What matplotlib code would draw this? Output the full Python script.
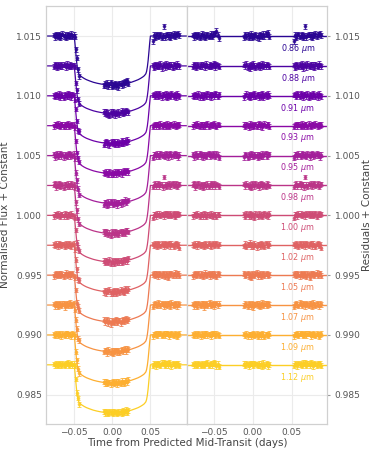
import numpy as np
import matplotlib.pyplot as plt

# wavelength bins and fitted transit depths
wavelengths = ["0.86", "0.88", "0.91", "0.93", "0.95", "0.98",
               "1.00", "1.02", "1.05", "1.07", "1.09", "1.12"]
depths = [0.00410, 0.00398, 0.00399, 0.00400, 0.00401, 0.00402,
          0.00390, 0.00391, 0.00391, 0.00391, 0.00402, 0.00402]
offsets = [1.015, 1.0125, 1.010, 1.0075, 1.005, 1.0025,
           1.000, 0.9975, 0.995, 0.9925, 0.990, 0.9875]

# exposure mid-times (1e-3 days) for the three visits
t_pre = [-77.0, -75.6, -74.1, -72.7, -71.2, -69.8, -68.3, -66.9, -65.4, -64.0,
         -62.5, -61.1, -59.6, -58.2, -56.7, -55.3, -53.8, -52.4, -50.9, -49.5,
         -48.0, -46.6, -45.1, -43.7]
t_mid = [-11.0, -9.5, -8.1, -6.6, -5.2, -3.7, -2.3, -0.8, 0.6, 2.1,
         3.5, 5.0, 6.4, 7.9, 9.3, 10.8, 12.2, 13.7, 15.1, 16.6,
         18.0, 19.5, 20.9]
t_post = [53.0, 54.4, 55.9, 57.3, 58.8, 60.2, 61.7, 63.1, 64.6, 66.0,
          67.5, 68.9, 70.4, 71.8, 73.3, 74.7, 76.2, 77.6, 79.1, 80.5,
          82.0, 83.4, 84.9, 86.3, 87.8]

# normalised transit profile (0 = out of transit, 1 = centre), 1e-3 days
profile_t = [-100.0, -50.0, -49.0, -48.0, -47.0, -46.0, -45.0, -44.0, -42.0, -40.0,
             -37.0, -34.0, -30.0, -25.0, -20.0, -15.0, -10.0, -5.0, 0.0,
             5.0, 10.0, 15.0, 20.0, 25.0, 30.0, 34.0, 37.0, 40.0, 42.0,
             44.0, 45.0, 46.0, 47.0, 48.0, 49.0, 50.0, 100.0]
profile_f = [0.0, 0.0, 0.15, 0.33, 0.50, 0.63, 0.72, 0.77, 0.81, 0.835,
             0.865, 0.89, 0.915, 0.943, 0.963, 0.979, 0.991, 0.998, 1.0,
             0.998, 0.991, 0.979, 0.963, 0.943, 0.915, 0.89, 0.865, 0.835, 0.81,
             0.77, 0.72, 0.63, 0.50, 0.33, 0.15, 0.0, 0.0]

# residuals per bin (1e-5), pre | in-transit | post
res_086 = [9, -12, 17, 4, -7, 13, -15, 6, 20, -4, 10, -13, 3, 14, -8, 7, 18, -6, 11, 25, 25, 45, 12, -20,
           -10, 14, -6, 17, -13, 4, 21, -17, 8, -7, 15, -11, 3, -20, 13, 6, -8, 18, -4, 22, 10, 28, -7,
           -45, 11, -14, 7, 17, -8, 4, 13, -17, 6, 80, -11, 8, 15, -4, 10, -13, 14, 3, 20, -7, 17, 11, 21, 6]
res_088 = [-7, 13, 6, -14, 10, 3, -8, 15, -4, 11, 7, -13, 18, 0, -6, 14, -10, 8, 4, 21, -11, 14, 6, -8,
           11, -4, 17, -14, 7, -21, 13, -10, 20, 3, -15, 8, -6, 14, -11, 4, 17, -8, 10, -3, 13, 7, -6,
           8, -14, 15, 4, -10, 13, -6, 17, -21, 7, 11, -13, 20, 3, -8, 14, -4, 10, -17, 15, 6, -7, 18, 8, -3]
res_091 = [4, -10, 14, 7, -6, 17, -13, 8, 1, -15, 11, 6, -8, 20, -3, 13, -11, 15, 7, -4, 22, 10, -7, 14,
           -13, 6, 18, -8, 11, -17, 7, 14, -4, 21, -10, 3, 15, -14, 8, -6, 20, -11, 4, 13, -7, 17, 1,
           7, 14, -6, 17, 10, -8, 21, 4, -13, 15, 8, -4, 18, -15, 11, 3, -10, 20, 6, -7, 14, -11, 17, 4, -3]
res_093 = [-6, 8, 13, -3, 15, 4, -10, 11, 7, -7, 14, -4, 10, 17, -8, 6, 13, -1, 8, 18, 3, -11, 10, 6,
           7, -8, 13, 3, -14, 17, -6, 10, -11, 4, 14, -7, 8, 15, -4, 11, -13, 6, 18, -3, 8, 13, -7,
           -8, 6, 14, -4, 11, 7, -10, 15, 3, -6, 13, 8, -11, 17, 4, -7, 14, 10, -3, 18, 6, -8, 13, 1, 7]
res_095 = [10, -13, 7, 17, -8, 4, 20, -6, 13, -15, 8, 3, -10, 14, 21, -7, 11, -4, 17, 6, -11, 15, 8, -18,
           -14, 10, 4, -20, 13, -7, 17, 6, -11, 14, -4, 8, -17, 11, 3, -10, 15, -6, 13, 20, -8, 7, 14,
           -17, 8, 13, -6, 15, 4, -11, 20, 7, -3, 14, -10, 17, 6, -13, 11, 18, -7, 8, 3, 21, -4, 13, -14, 6]
res_098 = [6, 17, -14, 8, -4, 21, -10, 13, 3, -17, 11, 7, -7, 15, -13, 4, 18, -6, 10, 14, -8, 13, 4, -11,
           13, -7, 15, 4, -13, 8, -17, 14, 6, -8, 18, -4, 10, -14, 7, 17, -6, 11, 3, -10, 15, 8, -4,
           -13, 7, 14, -8, 4, 17, -6, 11, 8, -15, 70, 6, -10, 13, 3, 15, -7, 10, 18, -4, 8, 14, -11, 6, 13]
res_100 = [-8, 7, 11, -4, 14, 3, -11, 8, 6, -7, 13, 4, -14, 10, 7, -6, 15, 1, -8, 11, 6, -13, 8, 4,
           8, -11, 14, 4, -7, 17, -14, 10, 3, -18, 13, 7, -8, 15, -6, 11, -13, 4, 17, -3, 10, -7, 14,
           -20, 6, 10, -7, 13, 3, 15, -4, 8, 11, -8, 14, 4, 17, -6, 10, 13, -3, 7, 18, -10, 8, 14, 4, 11]
res_102 = [7, -6, 13, 3, -10, 15, 6, -4, 11, 8, -13, 14, 4, -7, 17, 1, -8, 10, 13, -3, 7, 15, -6, 11,
           -7, 13, -15, 8, 4, 20, -10, 7, -13, 14, 3, -17, 11, 6, -8, 15, -4, 10, -14, 18, 7, -6, 13,
           10, -4, 14, 7, -11, 17, 4, -7, 13, 8, -10, 15, 6, -3, 11, 18, -8, 14, 3, -13, 10, 17, -6, 7, -20]
res_105 = [-11, 8, 15, -6, 4, 18, -8, 13, 3, -14, 10, 21, -4, 7, 14, -10, 6, 17, -7, 11, 4, -13, 14, 7,
           14, -8, 6, 18, -13, 8, -20, 11, 4, -7, 15, 22, -10, 7, 13, -15, 6, 17, -6, 10, 14, -4, 8,
           6, 13, -8, 17, 4, -11, 14, 8, -6, 18, 3, -14, 11, 7, -20, 13, 6, 15, -4, 10, 21, -7, 11, 17, -3]
res_107 = [8, -10, 14, 6, -13, 17, 4, -6, 11, 15, -18, 7, 13, -4, 10, 20, -8, 6, 14, -11, 7, 17, -3, 10,
           -6, 11, 7, -14, 17, 4, -10, 13, -18, 8, 3, 15, -7, 11, -13, 6, 18, -4, 10, 14, -8, 13, 4,
           -14, 7, 17, 4, -8, 20, 11, -6, 14, 8, -11, 15, 6, -4, 13, 10, -15, 18, 7, -7, 14, 3, -10, 11, 6]
res_109 = [4, -8, 11, 7, -6, 14, 3, -11, 10, 6, -7, 13, 15, -4, 8, 3, -10, 14, 7, 17, -6, 11, 4, -8,
           7, -6, 11, -10, 4, 8, -13, 6, 14, -7, 3, 10, -14, 7, 4, -11, 13, 1, -17, 8, 6, -8, 11,
           -13, 8, 4, 14, -6, 11, 7, 17, -8, 4, 13, -4, 10, 15, 7, -11, 6, 14, 3, -7, 11, 8, -14, 6, 10]
res_112 = [6, -4, 10, 3, -8, 13, 7, -6, 11, 4, -10, 15, 8, 18, -7, 6, 13, -3, 10, 21, 14, -11, 8, -17,
           8, -7, 13, 4, -11, 14, 6, 10, -6, 15, 7, 3, -8, 11, -4, 8, -13, 17, -10, 6, 13, -14, 4,
           -7, 11, 6, -13, 15, 4, 8, -8, 17, 7, 20, -6, 13, 10, -4, 22, 7, -11, 14, 6, -8, 15, 4, 11, -6]
residuals = [res_086, res_088, res_091, res_093, res_095, res_098,
             res_100, res_102, res_105, res_107, res_109, res_112]
flux_err = 0.0002

times = np.array(t_pre + t_mid + t_post) / 1000
prof_t = np.array(profile_t) / 1000
prof_f = np.array(profile_f)
colors = plt.cm.plasma(np.linspace(0.05, 0.9, len(wavelengths)))

plt.rcParams['font.family'] = 'DejaVu Sans'
fig = plt.figure(figsize=(3.74, 4.55), dpi=100)
ax1 = fig.add_axes([46 / 374, 1 - 424 / 455, 141 / 374, 418 / 455])
ax2 = fig.add_axes([187 / 374, 1 - 424 / 455, 140 / 374, 418 / 455], sharey=ax1)

for i, wl in enumerate(wavelengths):
    c = colors[i]
    res = np.array(residuals[i]) * 1e-5
    model_pts = offsets[i] - depths[i] * np.interp(times, prof_t, prof_f)
    ax1.plot(prof_t, offsets[i] - depths[i] * prof_f, color=c, lw=0.9, zorder=2)
    ax1.errorbar(times, model_pts + res, yerr=flux_err, fmt='o', ms=1.6, color=c,
                 elinewidth=0.9, capsize=1.1, capthick=0.7, alpha=0.8, zorder=3)
    ax2.axhline(offsets[i], color=c, lw=1.0, zorder=2)
    ax2.errorbar(times, offsets[i] + res, yerr=flux_err, fmt='o', ms=1.6, color=c,
                 elinewidth=0.9, capsize=1.1, capthick=0.7, alpha=0.8, zorder=3)
    ax2.text(0.058, offsets[i] - 0.00103, wl + r" $\mu$m", color=c, fontsize=5.8,
             ha='center', va='center')

ax1.set_xlim(-0.087, 0.098)
ax2.set_xlim(-0.0845, 0.0955)
ax1.set_ylim(0.98255, 1.01751)
yticks = [0.985, 0.990, 0.995, 1.000, 1.005, 1.010, 1.015]
xticks = [-0.05, 0.0, 0.05]

for ax in (ax1, ax2):
    ax.set_xticks(xticks)
    ax.set_xticklabels(["\u22120.05", "0.00", "0.05"])
    ax.set_yticks(yticks)
    ax.grid(True, color='#ebebeb', lw=0.8, zorder=0)
    ax.set_axisbelow(True)
    for s in ax.spines.values():
        s.set_color('#d0d0d0')
        s.set_linewidth(0.9)
    ax.tick_params(axis='both', labelsize=6.5, colors='#555555', length=0, pad=3)

ax1.set_yticklabels(["%.3f" % v for v in yticks])
ax2.yaxis.tick_right()
ax2.tick_params(axis='y', length=2.5, color='#999999', labelright=True, labelleft=False)
ax2.set_yticklabels(["%.3f" % v for v in yticks])

ax1.set_ylabel("Normalised Flux + Constant", fontsize=7.5, color='#444444', labelpad=4)
fig.text(367 / 374, 215 / 455 * 0 + (1 - 215 / 455), "Residuals + Constant", rotation=90,
         fontsize=7.5, color='#444444', ha='center', va='center')
fig.text(187 / 374, 1 - 443 / 455, "Time from Predicted Mid-Transit (days)",
         fontsize=7.5, color='#444444', ha='center', va='center')

fig.savefig("out.png", dpi=100)
